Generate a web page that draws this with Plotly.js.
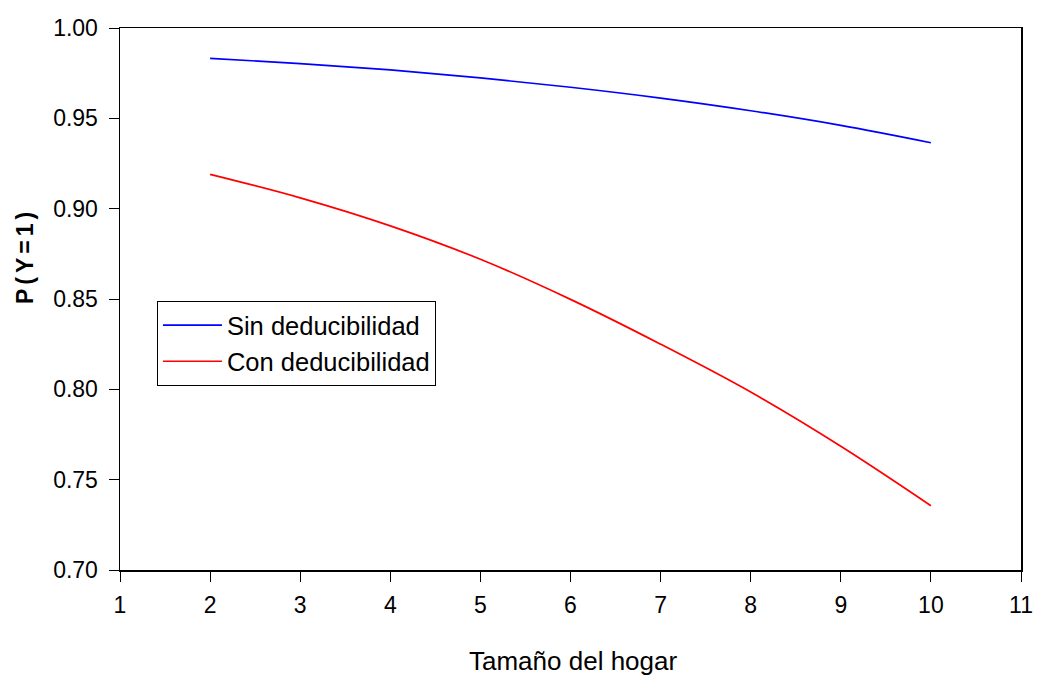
<!DOCTYPE html>
<html>
<head>
<meta charset="utf-8">
<script src="https://cdn.plot.ly/plotly-3.0.1.min.js"></script>
<style>
  html, body { margin: 0; padding: 0; background: #fff; }
  #chart { width: 1038px; height: 675px; }
  .ytitle-ann .annotation-text { letter-spacing: 4px; }
</style>
</head>
<body>
<div id="chart"></div>
<script>
const householdSize = [2, 3, 4, 5, 6, 7, 8, 9, 10];
const sinDeducibilidad = [0.9832, 0.9803, 0.9768, 0.9724, 0.9672, 0.9612, 0.9542, 0.9461, 0.9365];
const conDeducibilidad = [0.9190, 0.9060, 0.8905, 0.8720, 0.8498, 0.8250, 0.7985, 0.7685, 0.7356];
const seriesNames = ['Sin deducibilidad', 'Con deducibilidad'];
const xTicks = [1, 2, 3, 4, 5, 6, 7, 8, 9, 10, 11];
const yTicks = [0.70, 0.75, 0.80, 0.85, 0.90, 0.95, 1.00];
const yTickLabels = ['0.70', '0.75', '0.80', '0.85', '0.90', '0.95', '1.00'];
const xTitle = 'Tamaño del hogar';
const yTitle = 'P(Y=1)';

const font = 'Arial, "Liberation Sans", sans-serif';

const traces = [
  { x: householdSize, y: sinDeducibilidad, name: seriesNames[0], type: 'scatter', mode: 'lines',
    line: { color: '#0000FF', width: 1.7, shape: 'spline', smoothing: 1 } },
  { x: householdSize, y: conDeducibilidad, name: seriesNames[1], type: 'scatter', mode: 'lines',
    line: { color: '#FF0000', width: 1.7, shape: 'spline', smoothing: 1 } }
];

const axisCommon = {
  showline: true, mirror: true, linecolor: '#000', linewidth: 1.5,
  ticks: 'outside', ticklen: 10, tickwidth: 1, tickcolor: '#000',
  showgrid: false, zeroline: false,
  tickfont: { family: font, size: 23, color: '#000' }
};

const layout = {
  width: 1038, height: 675,
  paper_bgcolor: '#fff', plot_bgcolor: '#fff',
  margin: { l: 120, r: 17, t: 28, b: 105 },
  showlegend: true,
  legend: {
    x: 0.041, y: (570 - 301) / 542, xanchor: 'left', yanchor: 'top',
    bgcolor: '#fff', bordercolor: '#000', borderwidth: 1,
    font: { family: font, size: 25.5, color: '#000' },
    itemwidth: 59,
    tracegroupgap: 0
  },
  xaxis: Object.assign({}, axisCommon, {
    range: [1, 11], tickvals: xTicks, ticktext: xTicks.map(String),
    ticklabelstandoff: 4
  }),
  yaxis: Object.assign({}, axisCommon, {
    range: [0.70, 1.00], tickvals: yTicks, ticktext: yTickLabels,
    ticklabelstandoff: 6
  }),
  annotations: [
    { text: xTitle, xref: 'paper', yref: 'paper', x: (573 - 120) / 901, y: (570 - 661) / 542,
      xanchor: 'center', yanchor: 'middle', showarrow: false,
      font: { family: font, size: 26, color: '#000' } },
    { text: '<b>' + yTitle + '</b>', xref: 'paper', yref: 'paper', x: (25 - 120) / 901, y: (570 - 256) / 542,
      xanchor: 'center', yanchor: 'middle', showarrow: false, textangle: -90,
      font: { family: font, size: 23, color: '#000' } }
  ]
};

Plotly.newPlot('chart', traces, layout, { staticPlot: true, displayModeBar: false }).then(function () {
  const anns = document.querySelectorAll('.annotation');
  if (anns.length > 1) anns[1].classList.add('ytitle-ann');
});
</script>
</body>
</html>
